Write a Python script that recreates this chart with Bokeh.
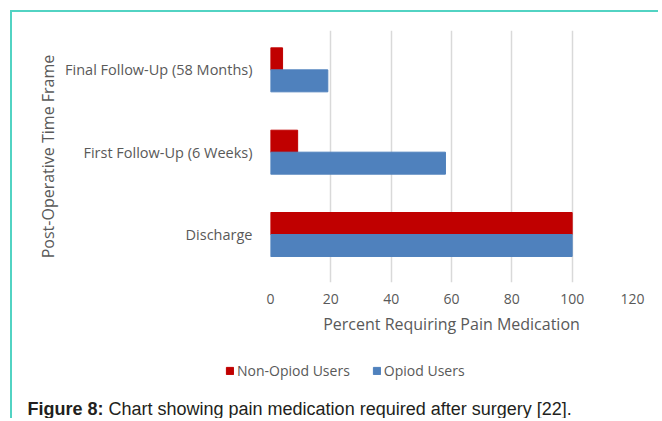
from bokeh.plotting import figure
from bokeh.models import Range1d, FixedTicker, Legend, LegendItem, Label, ColumnDataSource
from bokeh.transform import dodge
from bokeh.embed import file_html
from bokeh.resources import INLINE

categories = ["Discharge", "First Follow-Up (6 Weeks)", "Final Follow-Up (58 Months)"]
non_opioid = [100, 9, 4]
opioid = [100, 58, 19]
series_names = ["Non-Opiod Users", "Opiod Users"]
colors = ["#C00000", "#4F81BD"]
x_ticks = [0, 20, 40, 60, 80, 100, 120]
caption_bold = "Figure 8:"
caption_text = "Chart showing pain medication required after surgery [22]."

idx = list(range(len(categories)))
src = ColumnDataSource(dict(y=idx, non=non_opioid, op=opioid))

FONT = "Open Sans"
GRAY = "#595959"
TEAL = "2px solid #52D3C3"
W = 648

# ---- main chart ----
p = figure(width=W, height=333, output_backend="svg", toolbar_location=None,
           x_range=Range1d(0, 120), y_range=Range1d(-0.583, 2.478),
           min_border_left=258, min_border_right=W - 620, min_border_top=18, min_border_bottom=63)
p.outline_line_color = None
p.styles = {"margin-left": "10px", "margin-top": "10px",
            "border-top": TEAL, "border-left": TEAL}

p.hbar(y=dodge("y", 0.1336, range=p.y_range), right="non", left=0, height=0.267,
       source=src, fill_color=colors[0], line_color=colors[0])
p.hbar(y=dodge("y", -0.1336, range=p.y_range), right="op", left=0, height=0.267,
       source=src, fill_color=colors[1], line_color=colors[1])

p.xaxis.ticker = FixedTicker(ticks=x_ticks)
p.yaxis.ticker = FixedTicker(ticks=idx)
p.yaxis.major_label_overrides = {i: c for i, c in zip(idx, categories)}
p.ygrid.grid_line_color = None
p.xgrid.grid_line_color = "#D9D9D9"
p.xgrid.grid_line_width = 1.5

for ax in (p.xaxis[0], p.yaxis[0]):
    ax.axis_line_color = None
    ax.major_tick_line_color = None
    ax.minor_tick_line_color = None
    ax.major_label_text_font = FONT
    ax.major_label_text_font_size = "14px"
    ax.major_label_text_color = GRAY
    ax.axis_label_text_font = FONT
    ax.axis_label_text_font_size = "16px"
    ax.axis_label_text_color = GRAY
    ax.axis_label_text_font_style = "normal"

p.yaxis.major_label_text_font_size = "14.5px"
p.xaxis.axis_label = "Percent Requiring Pain Medication"
p.yaxis.axis_label = "Post-Operative Time Frame"
p.xaxis.major_label_standoff = 5
p.xaxis.axis_label_standoff = 6
p.yaxis.major_label_standoff = 12
p.yaxis.axis_label_standoff = 3

# ---- legend + caption strip (separate root, frame covers whole canvas) ----
p2 = figure(width=W, height=75, output_backend="svg", toolbar_location=None,
            x_axis_type=None, y_axis_type=None, min_border=0,
            x_range=Range1d(0, 1), y_range=Range1d(10, 11))
p2.outline_line_color = None
p2.grid.visible = False
p2.styles = {"margin-left": "10px", "border-left": TEAL}
# legend swatches reuse the chart data; they fall outside this strip's range
lr_non = p2.hbar(y="y", right="non", left=0, height=0.267, source=src,
                 fill_color=colors[0], line_color=colors[0])
lr_op = p2.hbar(y="y", right="op", left=0, height=0.267, source=src,
                fill_color=colors[1], line_color=colors[1])

legend = Legend(items=[LegendItem(label=series_names[0], renderers=[lr_non]),
                       LegendItem(label=series_names[1], renderers=[lr_op])],
                orientation="horizontal", location=(213, 38),
                border_line_color=None, background_fill_alpha=0,
                padding=0, margin=0, spacing=22, label_standoff=3,
                glyph_width=9, glyph_height=9, label_height=18,
                label_text_font=FONT, label_text_font_size="14px",
                label_text_color=GRAY)
p2.add_layout(legend, "center")

cap1 = Label(x=15, y=10, x_units="screen", y_units="screen", text=caption_bold,
             text_font="Liberation Sans", text_font_size="18px", text_font_style="bold",
             text_color="#231F20", text_baseline="alphabetic")
cap2 = Label(x=96, y=10, x_units="screen", y_units="screen", text=caption_text,
             text_font="Liberation Sans", text_font_size="18px",
             text_color="#231F20", text_baseline="alphabetic")
p2.add_layout(cap1)
p2.add_layout(cap2)

open("out.html", "w").write(file_html([p, p2], INLINE))
